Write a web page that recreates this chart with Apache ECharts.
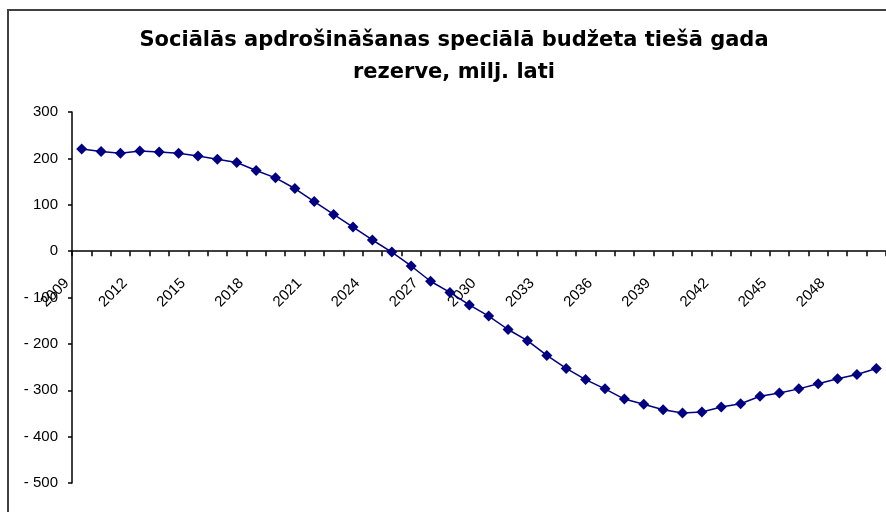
<!DOCTYPE html>
<html>
<head>
<meta charset="utf-8">
<script src="https://cdn.jsdelivr.net/npm/echarts@6/dist/echarts.min.js"></script>
<style>
html,body{margin:0;padding:0;background:#fff;}
#chart{width:886px;height:512px;}
</style>
</head>
<body>
<div id="chart"></div>
<script>
const titleText = 'Sociālās apdrošināšanas speciālā budžeta tiešā gada\nrezerve, milj. lati';
const years = ['2009','2010','2011','2012','2013','2014','2015','2016','2017','2018',
  '2019','2020','2021','2022','2023','2024','2025','2026','2027','2028',
  '2029','2030','2031','2032','2033','2034','2035','2036','2037','2038',
  '2039','2040','2041','2042','2043','2044','2045','2046','2047','2048',
  '2049','2050'];
const reserve = [220, 215, 211, 216, 214, 211, 205, 198, 191, 174,
  158, 135, 107, 79, 52, 24, -2, -32, -65, -89,
  -116, -140, -169, -193, -225, -253, -277, -297, -319, -330,
  -342, -349, -347, -336, -329, -313, -306, -297, -286, -275,
  -266, -253];
const yMin = -500, yMax = 300, yStep = 100;

const font = '"Liberation Sans", Arial, sans-serif';
const gridTop = 112, gridBottom = 29, H = 512;
const plotH = H - gridTop - gridBottom;
// place the category axis where the value axis crosses zero
const zeroOffset = -plotH * (0 - yMin) / (yMax - yMin);

const chart = echarts.init(document.getElementById('chart'), null, {renderer: 'canvas'});
chart.setOption({
  animation: false,
  backgroundColor: '#ffffff',
  graphic: [{
    type: 'rect',
    shape: {x: 8, y: 10, width: 1000, height: 600},
    style: {fill: 'none', stroke: '#404040', lineWidth: 2},
    silent: true,
    z: -1
  }],
  title: {
    text: titleText,
    left: 449,
    top: 20,
    textAlign: 'center',
    textStyle: {fontFamily: '"DejaVu Sans", Arial, sans-serif', fontSize: 21, fontWeight: 'bold', color: '#000', lineHeight: 32}
  },
  grid: {left: 72, right: -3, top: gridTop, bottom: gridBottom, containLabel: false},
  xAxis: {
    type: 'category',
    data: years,
    boundaryGap: true,
    position: 'bottom',
    offset: zeroOffset,
    axisLine: {onZero: false, lineStyle: {color: '#000', width: 1.5}},
    axisTick: {show: true, interval: 0, length: 5, lineStyle: {color: '#000', width: 1.5}},
    axisLabel: {
      interval: 2, rotate: 45, margin: 15, padding: [0, 21, 0, 0],
      fontFamily: font, fontSize: 15, color: '#000'
    },
    splitLine: {show: false}
  },
  yAxis: {
    type: 'value',
    min: yMin, max: yMax, interval: yStep,
    axisLine: {show: true, lineStyle: {color: '#000', width: 1.5}},
    axisTick: {show: true, length: 4, lineStyle: {color: '#000', width: 1.5}},
    axisLabel: {
      margin: 14, fontFamily: font, fontSize: 15, color: '#000',
      formatter: v => v < 0 ? '- ' + (-v) : String(v)
    },
    splitLine: {show: false}
  },
  series: [{
    type: 'line',
    data: reserve,
    symbol: 'diamond',
    symbolSize: 11,
    lineStyle: {color: '#000080', width: 1.5},
    itemStyle: {color: '#000080'}
  }]
});
</script>
</body>
</html>
